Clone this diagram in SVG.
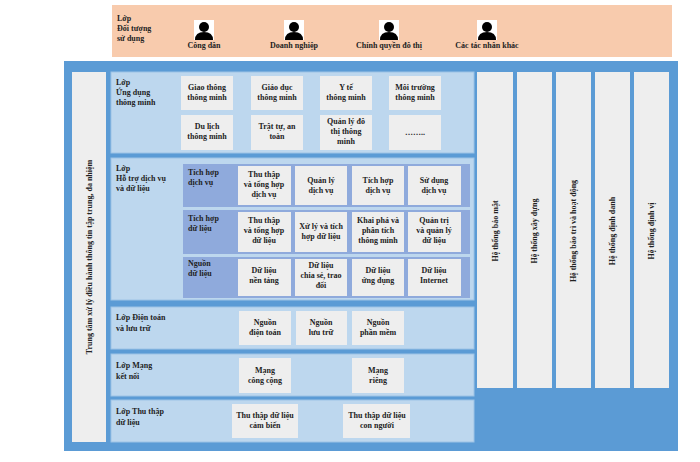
<svg xmlns="http://www.w3.org/2000/svg" width="700" height="462" viewBox="0 0 700 462">
<style>
text{font-family:"Liberation Serif","DejaVu Serif",serif;font-weight:bold;font-size:8px;fill:#222}
.c{text-anchor:middle}
.lay{fill:#bdd7ee;stroke:#9dc3e6;stroke-width:1}
.box{fill:#eeeeee}
.sub{fill:#8faadc}
.col{fill:#eeeeee}
</style>
<defs>
<g id="person"><rect x="-10" y="-10" width="20" height="20" fill="#fff"/><circle cx="0" cy="-3" r="5" fill="#000"/><path d="M-9,10 Q-9,2 0,2 Q9,2 9,10 Z" fill="#000"/></g>
</defs>
<rect width="700" height="462" fill="#fff"/>
<g id="users">
<rect x="112" y="5" width="560" height="52" fill="#f8cbad"/>
<text x="117" y="21">Lớp</text><text x="117" y="31">Đối tượng</text><text x="117" y="41">sử dụng</text>
<use href="#person" x="204" y="30"/><text class="c" x="204" y="48">Công dân</text>
<use href="#person" x="294" y="30"/><text class="c" x="294" y="48">Doanh nghiệp</text>
<use href="#person" x="389" y="30"/><text class="c" x="389" y="48">Chính quyền đô thị</text>
<use href="#person" x="487" y="30"/><text class="c" x="487" y="48">Các tác nhân khác</text>
</g>
<rect x="64" y="61" width="614" height="390" fill="#5b9bd5"/>
<g id="center"><rect class="col" x="72" y="72" width="34" height="370"/>
<text class="c" transform="translate(92,257) rotate(-90)">Trung tâm xử lý điều hành thông tin tập trung, đa nhiệm</text></g>
<g id="app">
<rect class="lay" x="111" y="72" width="363" height="81"/>
<text x="116" y="85">Lớp</text><text x="116" y="95">Ứng dụng</text><text x="116" y="105">thông minh</text>
<rect class="box" x="181" y="76" width="52" height="34"/><text class="c" x="207" y="90">Giao thông</text><text class="c" x="207" y="100">thông minh</text>
<rect class="box" x="251" y="76" width="52" height="34"/><text class="c" x="277" y="90">Giáo dục</text><text class="c" x="277" y="100">thông minh</text>
<rect class="box" x="320" y="76" width="52" height="34"/><text class="c" x="346" y="90">Y tế</text><text class="c" x="346" y="100">thông minh</text>
<rect class="box" x="389" y="76" width="52" height="34"/><text class="c" x="415" y="90">Môi trường</text><text class="c" x="415" y="100">thông minh</text>
<rect class="box" x="181" y="115" width="52" height="35"/><text class="c" x="207" y="129">Du lịch</text><text class="c" x="207" y="139">thông minh</text>
<rect class="box" x="251" y="115" width="52" height="35"/><text class="c" x="277" y="129">Trật tự, an</text><text class="c" x="277" y="139">toàn</text>
<rect class="box" x="320" y="115" width="52" height="35"/><text class="c" x="346" y="124">Quản lý đô</text><text class="c" x="346" y="134">thị thông</text><text class="c" x="346" y="144">minh</text>
<rect class="box" x="389" y="115" width="52" height="35"/><text class="c" x="415" y="135">……..</text>
</g>
<g id="support">
<rect class="lay" x="111" y="158" width="363" height="142"/>
<text x="116" y="171">Lớp</text><text x="116" y="181">Hỗ trợ dịch vụ</text><text x="116" y="191">và dữ liệu</text>
<rect class="sub" x="183" y="164" width="287" height="43"/>
<rect class="sub" x="183" y="210" width="287" height="44"/>
<rect class="sub" x="183" y="257" width="287" height="41"/>
<text x="188" y="175">Tích hợp</text><text x="188" y="185">dịch vụ</text>
<text x="188" y="221">Tích hợp</text><text x="188" y="231">dữ liệu</text>
<text x="188" y="266">Nguồn</text><text x="188" y="276">dữ liệu</text>
<rect class="box" x="238" y="166" width="53" height="39"/><text class="c" x="264" y="177">Thu thập</text><text class="c" x="264" y="187">và tổng hợp</text><text class="c" x="264" y="197">dịch vụ</text>
<rect class="box" x="295" y="166" width="52" height="39"/><text class="c" x="321" y="183">Quản lý</text><text class="c" x="321" y="193">dịch vụ</text>
<rect class="box" x="352" y="166" width="52" height="39"/><text class="c" x="378" y="183">Tích hợp</text><text class="c" x="378" y="193">dịch vụ</text>
<rect class="box" x="408" y="166" width="53" height="39"/><text class="c" x="434" y="183">Sử dụng</text><text class="c" x="434" y="193">dịch vụ</text>
<rect class="box" x="238" y="212" width="53" height="40"/><text class="c" x="264" y="223">Thu thập</text><text class="c" x="264" y="233">và tổng hợp</text><text class="c" x="264" y="243">dữ liệu</text>
<rect class="box" x="295" y="212" width="52" height="40"/><text class="c" x="321" y="229">Xử lý và tích</text><text class="c" x="321" y="239">hợp dữ liệu</text>
<rect class="box" x="352" y="212" width="52" height="40"/><text class="c" x="378" y="223">Khai phá và</text><text class="c" x="378" y="233">phân tích</text><text class="c" x="378" y="243">thông minh</text>
<rect class="box" x="408" y="212" width="53" height="40"/><text class="c" x="434" y="223">Quản trị</text><text class="c" x="434" y="233">và quản lý</text><text class="c" x="434" y="243">dữ liệu</text>
<rect class="box" x="238" y="259" width="53" height="37"/><text class="c" x="264" y="273">Dữ liệu</text><text class="c" x="264" y="283">nền tảng</text>
<rect class="box" x="295" y="259" width="52" height="37"/><text class="c" x="321" y="268">Dữ liệu</text><text class="c" x="321" y="278">chia sẻ, trao</text><text class="c" x="321" y="288">đổi</text>
<rect class="box" x="352" y="259" width="52" height="37"/><text class="c" x="378" y="273">Dữ liệu</text><text class="c" x="378" y="283">ứng dụng</text>
<rect class="box" x="408" y="259" width="53" height="37"/><text class="c" x="434" y="273">Dữ liệu</text><text class="c" x="434" y="283">Internet</text>
</g>
<g id="compute">
<rect class="lay" x="111" y="307" width="363" height="42"/>
<text x="116" y="320">Lớp Điện toán</text><text x="116" y="331">và lưu trữ</text>
<rect class="box" x="239" y="311" width="52" height="34"/><text class="c" x="265" y="325">Nguồn</text><text class="c" x="265" y="335">điện toán</text>
<rect class="box" x="296" y="311" width="51" height="34"/><text class="c" x="321" y="325">Nguồn</text><text class="c" x="321" y="335">lưu trữ</text>
<rect class="box" x="352" y="311" width="52" height="34"/><text class="c" x="378" y="325">Nguồn</text><text class="c" x="378" y="335">phần mềm</text>
</g>
<g id="network">
<rect class="lay" x="111" y="354" width="363" height="42"/>
<text x="116" y="368">Lớp Mạng</text><text x="116" y="379">kết nối</text>
<rect class="box" x="239" y="358" width="52" height="35"/><text class="c" x="265" y="373">Mạng</text><text class="c" x="265" y="383">công cộng</text>
<rect class="box" x="352" y="358" width="52" height="35"/><text class="c" x="378" y="373">Mạng</text><text class="c" x="378" y="383">riêng</text>
</g>
<g id="collect">
<rect class="lay" x="111" y="400" width="363" height="42"/>
<text x="116" y="414">Lớp Thu thập</text><text x="116" y="425">dữ liệu</text>
<rect class="box" x="232" y="404" width="66" height="34"/><text class="c" x="265" y="418">Thu thập dữ liệu</text><text class="c" x="265" y="428">cảm biến</text>
<rect class="box" x="343" y="404" width="67" height="34"/><text class="c" x="377" y="418">Thu thập dữ liệu</text><text class="c" x="377" y="428">con người</text>
</g>
<g id="systems">
<rect class="col" x="477" y="72" width="36" height="316"/><text class="c" transform="translate(498,231) rotate(-90)">Hệ thống bảo mật</text>
<rect class="col" x="517" y="72" width="35" height="316"/><text class="c" transform="translate(537,231) rotate(-90)">Hệ thống xây dựng</text>
<rect class="col" x="556" y="72" width="35" height="316"/><text class="c" transform="translate(576,231) rotate(-90)">Hệ thống bảo trì và hoạt động</text>
<rect class="col" x="595" y="72" width="35" height="316"/><text class="c" transform="translate(615,231) rotate(-90)">Hệ thống định danh</text>
<rect class="col" x="634" y="72" width="35" height="316"/><text class="c" transform="translate(654,231) rotate(-90)">Hệ thống định vị</text>
</g>
<g id="connectors"/>
</svg>
